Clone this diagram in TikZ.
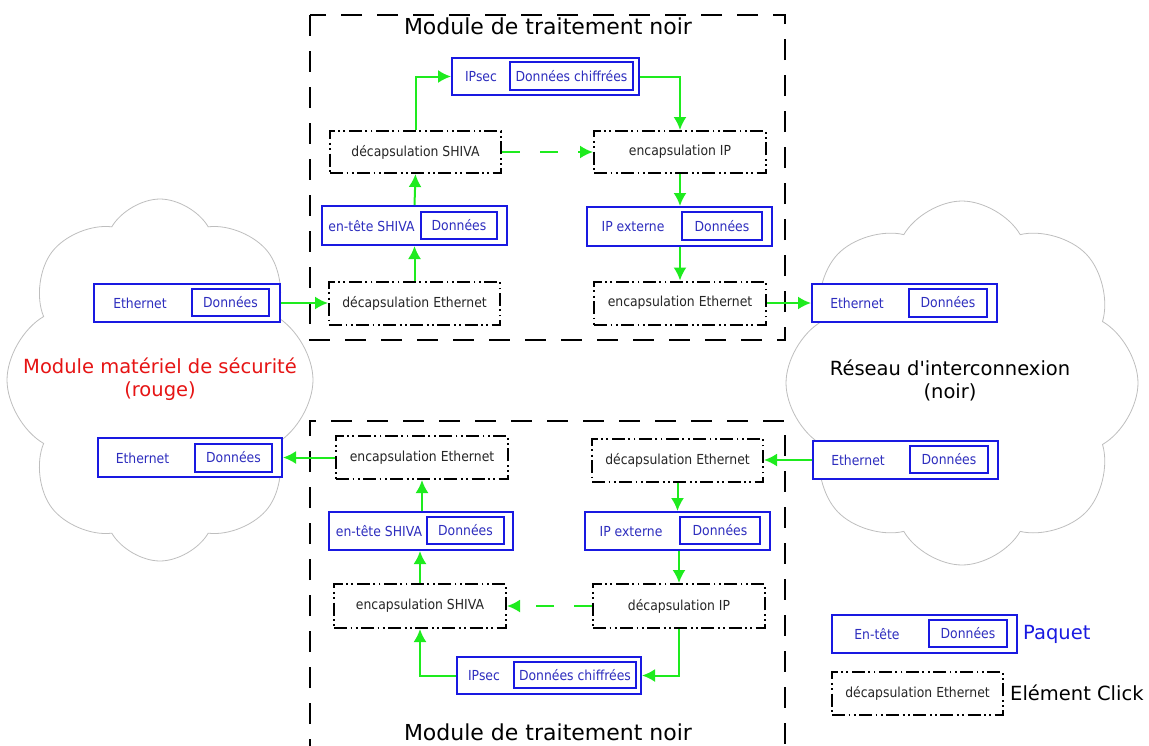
\documentclass[tikz,border=0pt]{standalone}
\usepackage{fontspec}
\setmainfont{DejaVu Sans}
\newfontfamily\dvsmall{DejaVu Sans}[FakeStretch=0.9]
\newfontfamily\dvplain{DejaVu Sans}
\usetikzlibrary{arrows.meta,shapes.symbols}
\definecolor{pblue}{RGB}{25,25,225}
\definecolor{ptext}{RGB}{45,45,190}
\definecolor{agreen}{RGB}{30,235,30}
\definecolor{cloudgray}{RGB}{190,190,190}
\definecolor{hred}{RGB}{230,20,20}
\tikzset{
  small/.style={font=\dvsmall\fontsize{13.8}{15}\selectfont},
  big/.style={font=\fontsize{19.5}{23}\selectfont},
  pkt/.style={draw=pblue, line width=2pt, fill=white, inner sep=0pt},
  pin/.style={draw=pblue, line width=2pt, inner sep=0pt, small, text=ptext},
  plab/.style={small, text=ptext, inner sep=0pt},
  elem/.style={draw=black, line width=2pt, fill=white, inner sep=0pt, small, text=black!85,
    dash pattern=on 13pt off 3.5pt on 1.8pt off 3.5pt on 1.8pt off 3.5pt},
  module/.style={draw=black, line width=2pt, dash pattern=on 21pt off 15pt},
  arr/.style={draw=agreen, line width=2pt, -{Latex[length=13pt,width=13pt]}},
  darr/.style={arr, dash pattern=on 18pt off 20pt},
  cloudy/.style={cloud, cloud puffs=8, cloud puff arc=120, draw=cloudgray, line width=0.8pt, fill=white, aspect=0.85},
}
\begin{document}
\begin{tikzpicture}[x=1pt,y=-1pt]
\useasboundingbox (0,0) rectangle (1149,745);
% clouds
\node[cloudy, minimum width=306pt, minimum height=362pt] (cl) at (160,380) {};
\node[cloudy, minimum width=352pt, minimum height=364pt] (cr) at (962,383) {};
\node[big, text=hred, align=center] (tl) at (160,379) {Module matériel de sécurité\\(rouge)};
\node[big, text=black, align=center] (tr) at (950,380) {Réseau {\dvplain d'interconnexion}\\(noir)};
% modules
\draw[module] (310,15) rectangle (785,340);
\draw[module] (310,760) -- (310,421) -- (785,421) -- (785,760);
\node[font=\fontsize{22}{26}\selectfont] (t1) at (548,26) {Module de traitement noir};
\node[font=\fontsize{22}{26}\selectfont] (t2) at (548,732) {Module de traitement noir};

% ---- top module
\node[pkt, minimum width=187pt, minimum height=37pt] (ips1) at (545.5,76.5) {};
\node[pin, minimum width=123pt, minimum height=28pt] (ips1d) at (571.5,76) {Données chiffrées};
\node[plab] (ips1h) at (481,77) {IPsec};
\node[elem, minimum width=171pt, minimum height=42pt] (dS1) at (415.5,152) {décapsulation SHIVA};
\node[elem, minimum width=172pt, minimum height=42pt] (eIP1) at (680,152) {encapsulation IP};
\node[pkt, minimum width=185pt, minimum height=39pt] (sh1) at (414.5,225.5) {};
\node[pin, minimum width=76pt, minimum height=27pt] (sh1d) at (459,225.5) {Données};
\node[plab] (sh1h) at (371.5,226) {en-tête SHIVA};
\node[pkt, minimum width=185pt, minimum height=39pt] (ipx1) at (679.5,226.5) {};
\node[pin, minimum width=80pt, minimum height=28pt] (ipx1d) at (722,226) {Données};
\node[plab] (ipx1h) at (633,227) {IP externe};
\node[elem, minimum width=171pt, minimum height=43pt] (dE1) at (414.5,303) {décapsulation Ethernet};
\node[elem, minimum width=172pt, minimum height=43pt] (eE1) at (680,303) {encapsulation Ethernet};

% ---- bottom module
\node[elem, minimum width=172pt, minimum height=43pt] (eE2) at (422,457.5) {encapsulation Ethernet};
\node[elem, minimum width=171pt, minimum height=43pt] (dE2) at (677.5,460) {décapsulation Ethernet};
\node[pkt, minimum width=184pt, minimum height=38pt] (sh2) at (421,531) {};
\node[pin, minimum width=77pt, minimum height=27pt] (sh2d) at (465.5,530.5) {Données};
\node[plab] (sh2h) at (379,531) {en-tête SHIVA};
\node[pkt, minimum width=185pt, minimum height=38pt] (ipx2) at (677.5,531) {};
\node[pin, minimum width=80pt, minimum height=27pt] (ipx2d) at (720,530.5) {Données};
\node[plab] (ipx2h) at (631,532) {IP externe};
\node[elem, minimum width=172pt, minimum height=44pt] (eS2) at (420,606) {encapsulation SHIVA};
\node[elem, minimum width=172pt, minimum height=44pt] (dIP2) at (679,606) {décapsulation IP};
\node[pkt, minimum width=184pt, minimum height=37pt] (ips2) at (549,675.5) {};
\node[pin, minimum width=122pt, minimum height=26pt] (ips2d) at (575,675) {Données chiffrées};
\node[plab] (ips2h) at (484,676) {IPsec};

% ---- cloud packets
\node[pkt, minimum width=186pt, minimum height=38pt] (le1) at (187,303) {};
\node[pin, minimum width=77pt, minimum height=27pt] (le1d) at (230.5,302.5) {Données};
\node[plab] (le1h) at (140,303) {Ethernet};
\node[pkt, minimum width=184pt, minimum height=39pt] (le2) at (190,457.5) {};
\node[pin, minimum width=77pt, minimum height=28pt] (le2d) at (233.5,457.5) {Données};
\node[plab] (le2h) at (142.5,458) {Ethernet};
\node[pkt, minimum width=185pt, minimum height=38pt] (re1) at (904.5,303) {};
\node[pin, minimum width=78pt, minimum height=28pt] (re1d) at (948,302.5) {Données};
\node[plab] (re1h) at (857,303) {Ethernet};
\node[pkt, minimum width=185pt, minimum height=38pt] (re2) at (905.5,460) {};
\node[pin, minimum width=78pt, minimum height=27pt] (re2d) at (949,459.5) {Données};
\node[plab] (re2h) at (858,460) {Ethernet};

% ---- legend
\node[pkt, minimum width=185pt, minimum height=38pt] (lp) at (924.5,634) {};
\node[pin, minimum width=78pt, minimum height=27pt] (lpd) at (968,633.5) {Données};
\node[plab] (lph) at (877,634) {En-tête};
\node[big, text=pblue, anchor=west, inner sep=0pt] (lpt) at (1023,634) {Paquet};
\node[elem, minimum width=171pt, minimum height=43pt] (lc) at (917.5,693.5) {décapsulation Ethernet};
\node[big, anchor=west, inner sep=0pt] (lct) at (1010,693) {Elément Click};

% ---- arrows top
\draw[arr] (le1.east) -- (dE1.west);
\draw[arr] (dE1.north) -- (sh1.south);
\draw[arr] (sh1.north) -- (dS1.south);
\draw[arr] (dS1.north) |- (ips1.west);
\draw[arr] (ips1.east) -| (eIP1.north);
\draw[darr] (dS1.east) -- (eIP1.west);
\draw[arr] (eIP1.south) -- (ipx1.north -| eIP1.south);
\draw[arr] (ipx1.south -| eIP1.south) -- (eE1.north);
\draw[arr] (eE1.east) -- (re1.west);

% ---- arrows bottom
\draw[arr] (re2.west) -- (dE2.east);
\draw[arr] (dE2.south) -- (ipx2.north -| dE2.south);
\draw[arr] (ipx2.south -| dIP2.north) -- (dIP2.north);
\draw[arr] (dIP2.south) |- (ips2.east);
\draw[darr] (dIP2.west) -- (eS2.east);
\draw[arr] (ips2.west) -| (eS2.south);
\draw[arr] (eS2.north) -- (sh2.south -| eS2.north);
\draw[arr] (sh2.north -| eE2.south) -- (eE2.south);
\draw[arr] (eE2.west) -- (le2.east);
\end{tikzpicture}
\end{document}
